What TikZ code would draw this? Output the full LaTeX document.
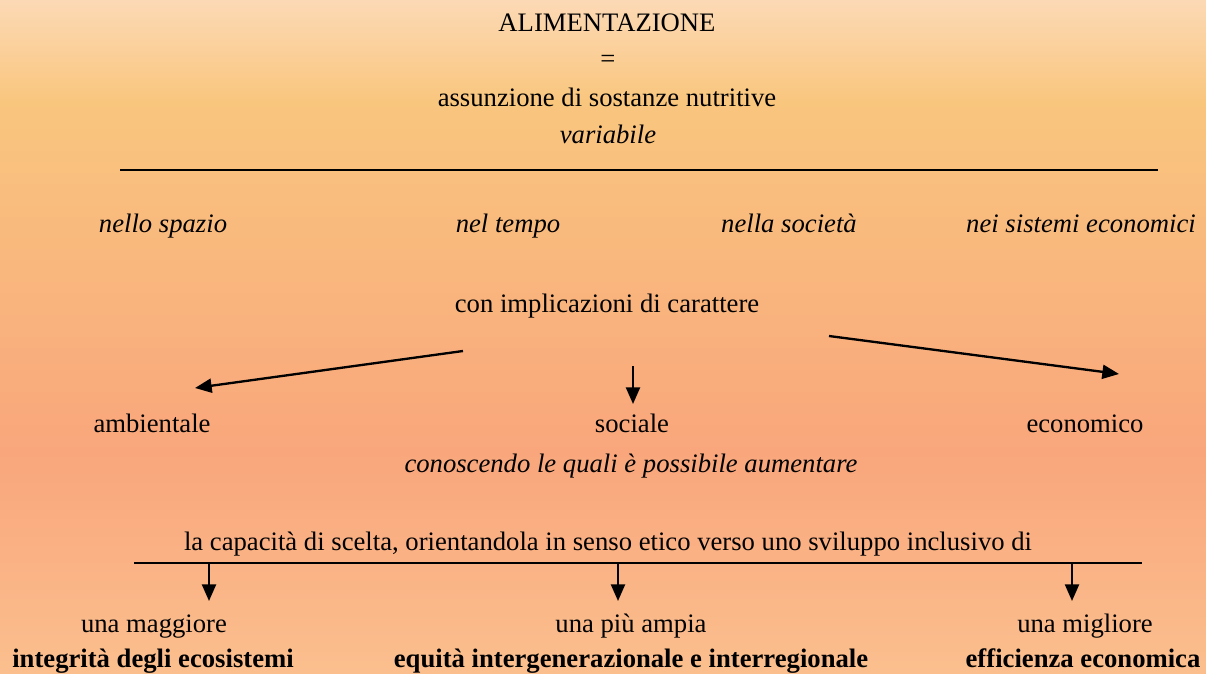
\documentclass[tikz,border=0pt]{standalone}
\usepackage{fontspec}
\setmainfont{Liberation Serif}
\usetikzlibrary{arrows.meta}
\definecolor{peachtop}{RGB}{252,217,181}
\definecolor{peachhigh}{RGB}{249,198,126}
\definecolor{peachlow}{RGB}{249,166,124}
\definecolor{peachbot}{RGB}{251,191,142}
\pgfdeclareverticalshading{peachfade}{100bp}{color(0bp)=(peachbot); color(25bp)=(peachbot); color(41.5bp)=(peachlow); color(67.5bp)=(peachhigh); color(75bp)=(peachtop); color(100bp)=(peachtop)}
\tikzset{every node/.style={font=\fontsize{20}{24}\selectfont, inner sep=0pt, anchor=base},
  it/.style={font=\fontsize{20}{24}\selectfont\itshape},
  bf/.style={font=\fontsize{20}{24}\selectfont\bfseries},
  rule/.style={line width=2pt},
  arr/.style={line width=1.75pt, -{Triangle[length=12.5pt,width=10.5pt]}}}

\begin{document}
\begin{tikzpicture}[x=0.75pt, y=-0.75pt]
  \shade[shading=peachfade] (0,0) rectangle (1206,674);
  \useasboundingbox (0,0) rectangle (1206,674);
  % title block
  \node (alim) at (607,32) {ALIMENTAZIONE};
  \node (eq) at (608,68) {=};
  \node (assu) at (607,106) {assunzione di sostanze nutritive};
  \node[it] (var) at (608,143) {variabile};
  \draw[rule] (120,170) -- (1158,170);
  % dimensions
  \node[it] (spazio) at (163,232) {nello spazio};
  \node[it] (tempo) at (508,232) {nel tempo};
  \node[it] (soc) at (789,232) {nella società};
  \node[it] (sist) at (1081,232) {nei sistemi economici};
  \node (impl) at (607,312) {con implicazioni di carattere};
  % three characters
  \node (amb) at (152,432) {ambientale};
  \node (socl) at (632,432) {sociale};
  \node (eco) at (1085,432) {economico};
  \coordinate (l0) at (463,351);
  \coordinate (l1) at (195,388);
  \coordinate (r0) at (829,336);
  \coordinate (r1) at (1119,374);
  \coordinate (c0) at (633,366);
  \coordinate (c1) at (633,404);
  \draw[arr] (l0) -- (l1);
  \draw[arr] (c0) -- (c1);
  \draw[arr] (r0) -- (r1);
  \node[it] (conosc) at (631,472) {conoscendo le quali è possibile aumentare};
  \node (capac) at (608,550) {la capacità di scelta, orientandola in senso etico verso uno sviluppo inclusivo di};
  \draw[rule] (134,563) -- (1142,563);
  % outcomes
  \node (magg) at (154,632) {una maggiore};
  \node (ampia) at (631,632) {una più ampia};
  \node (migl) at (1085,632) {una migliore};
  \node[bf] (integ) at (153,667) {integrità degli ecosistemi};
  \node[bf] (equi) at (631,667) {equità intergenerazionale e interregionale};
  \node[bf] (effic) at (1083,667) {efficienza economica};
  \foreach \x/\n in {209/a, 618/b, 1072/c} {
    \coordinate (d\n0) at (\x,563);
    \coordinate (d\n1) at (\x,601);
    \draw[arr] (d\n0) -- (d\n1);
  }
\end{tikzpicture}
\end{document}
